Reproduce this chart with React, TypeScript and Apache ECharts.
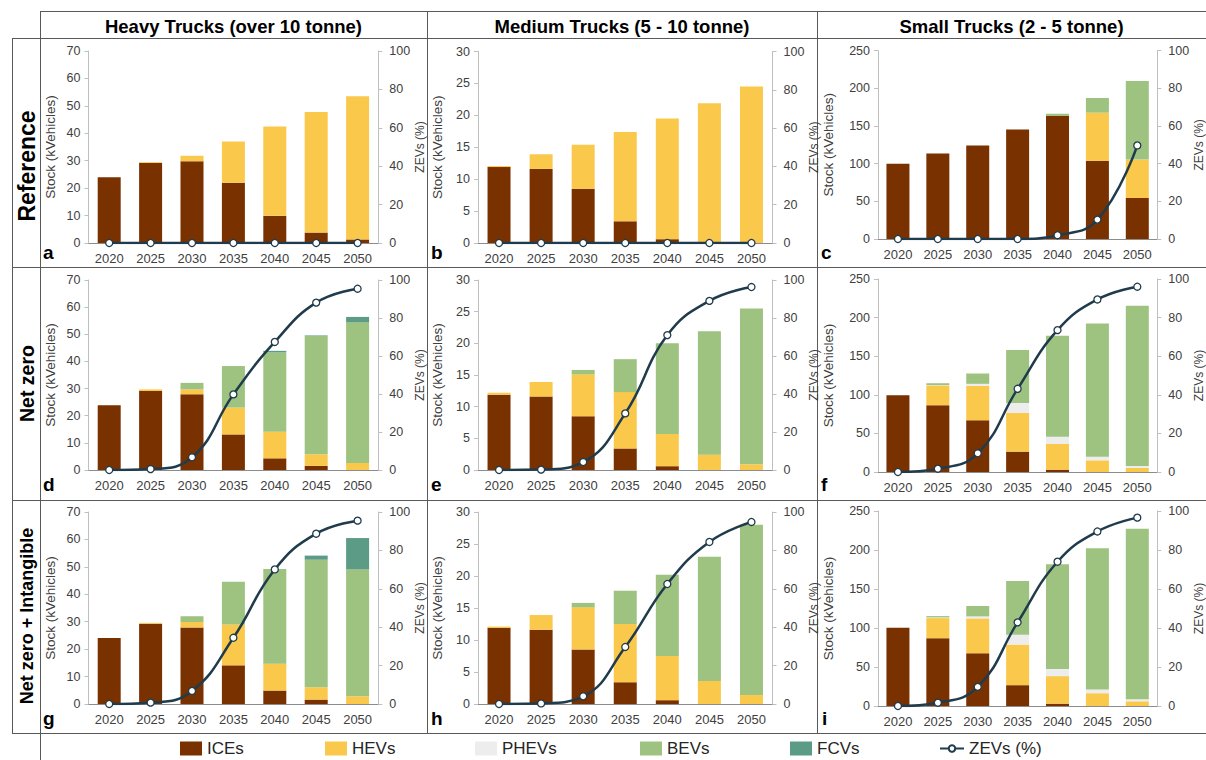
import React, { useEffect, useRef } from 'react';
import * as echarts from 'echarts';

const FONT = '"Liberation Sans", Arial, Helvetica, sans-serif';

const years = ['2020', '2025', '2030', '2035', '2040', '2045', '2050'];
const columnTitles = ['Heavy Trucks (over 10 tonne)', 'Medium Trucks (5 - 10 tonne)', 'Small Trucks (2 - 5 tonne)'];
const rowTitles = ['Reference', 'Net zero', 'Net zero + Intangible'];
const panelLetters = ['a', 'b', 'c', 'd', 'e', 'f', 'g', 'h', 'i'];
const stockMax = [70, 30, 250];
const stockInterval = [10, 5, 50];
const zevMax = 100;
const zevInterval = 20;
const seriesNames = ['ICEs', 'HEVs', 'PHEVs', 'BEVs', 'FCVs'];
const lineName = 'ZEVs (%)';

// a: Heavy, Reference
const heavyRefICE = [24.0, 29.2, 29.8, 22.0, 9.9, 3.8, 1.3];
const heavyRefHEV = [0, 0.3, 2.0, 15.0, 32.6, 44.0, 52.2];
const heavyRefPHEV = [0, 0, 0, 0, 0, 0, 0];
const heavyRefBEV = [0, 0, 0, 0, 0, 0, 0];
const heavyRefFCV = [0, 0, 0, 0, 0, 0, 0];
const heavyRefZEV = [0, 0, 0, 0, 0, 0, 0];
// b: Medium, Reference
const mediumRefICE = [11.9, 11.6, 8.5, 3.4, 0.6, 0.05, 0.05];
const mediumRefHEV = [0.15, 2.3, 6.9, 14.0, 18.9, 21.85, 24.45];
const mediumRefPHEV = [0, 0, 0, 0, 0, 0, 0];
const mediumRefBEV = [0, 0, 0, 0, 0, 0, 0];
const mediumRefFCV = [0, 0, 0, 0, 0, 0, 0];
const mediumRefZEV = [0, 0, 0, 0, 0, 0, 0];
// c: Small, Reference
const smallRefICE = [100, 113.5, 124, 145.5, 163.5, 104, 54.4];
const smallRefHEV = [0, 0, 0, 0, 0, 63.7, 51];
const smallRefPHEV = [0, 0, 0, 0, 0, 0, 0];
const smallRefBEV = [0, 0, 0, 0, 2.8, 19.5, 104.4];
const smallRefFCV = [0, 0, 0, 0, 0, 0, 0];
const smallRefZEV = [0, 0, 0, 0, 2.0, 10.3, 49.7];
// d: Heavy, Net zero
const heavyNzICE = [23.9, 29.1, 27.9, 13.1, 4.3, 1.5, 0];
const heavyNzHEV = [0, 0.6, 1.8, 9.9, 9.8, 4.3, 2.6];
const heavyNzPHEV = [0, 0, 0, 0, 0, 0, 0];
const heavyNzBEV = [0, 0, 2.4, 15.3, 29.2, 43.6, 51.8];
const heavyNzFCV = [0, 0, 0, 0, 0.6, 0.2, 2.0];
const heavyNzZEV = [0, 0.5, 6.7, 39.8, 67.4, 88.1, 95.4];
// e: Medium, Net zero
const mediumNzICE = [11.9, 11.6, 8.5, 3.4, 0.6, 0, 0];
const mediumNzHEV = [0.3, 2.3, 6.6, 8.9, 5.1, 2.4, 0.9];
const mediumNzPHEV = [0, 0, 0, 0, 0, 0, 0];
const mediumNzBEV = [0, 0, 0.7, 5.2, 14.3, 19.5, 24.6];
const mediumNzFCV = [0, 0, 0, 0, 0, 0, 0];
const mediumNzZEV = [0, 0.2, 4.2, 29.8, 71.0, 89.0, 96.3];
// f: Small, Net zero
const smallNzICE = [99.5, 86.5, 67, 26.4, 3, 0, 0];
const smallNzHEV = [0, 25.5, 44.6, 50.2, 33.3, 15.1, 5.2];
const smallNzPHEV = [0, 0.5, 2.6, 12.9, 9.5, 4.8, 2.6];
const smallNzBEV = [0, 2.5, 13.4, 68.4, 130.7, 172.6, 207.6];
const smallNzFCV = [0, 0, 0, 0, 0, 0, 0];
const smallNzZEV = [0, 1.7, 9.7, 43.1, 73.5, 89.4, 96.0];
// g: Heavy, Net zero + Intangible
const heavyNziICE = [24.1, 29.3, 27.9, 14.1, 4.9, 1.6, 0];
const heavyNziHEV = [0, 0.3, 2.0, 14.9, 9.8, 4.5, 2.8];
const heavyNziPHEV = [0, 0, 0, 0, 0, 0, 0];
const heavyNziBEV = [0, 0, 2.1, 15.6, 34.5, 46.5, 46.3];
const heavyNziFCV = [0, 0, 0, 0, 0, 1.5, 11.4];
const heavyNziZEV = [0, 0.7, 6.8, 34.5, 70.1, 88.7, 95.5];
// h: Medium, Net zero + Intangible
const mediumNziICE = [11.9, 11.6, 8.5, 3.4, 0.6, 0, 0];
const mediumNziHEV = [0.2, 2.3, 6.6, 9.1, 6.9, 3.6, 1.4];
const mediumNziPHEV = [0, 0, 0, 0, 0, 0, 0];
const mediumNziBEV = [0, 0, 0.7, 5.2, 12.7, 19.4, 26.6];
const mediumNziFCV = [0, 0, 0, 0, 0, 0, 0];
const mediumNziZEV = [0, 0.3, 4.0, 29.7, 62.5, 84.4, 94.8];
// i: Small, Net zero + Intangible
const smallNziICE = [100.3, 86.9, 67.6, 26.7, 3, 0, 0];
const smallNziHEV = [0, 25.8, 44.7, 52, 35.3, 16.4, 6];
const smallNziPHEV = [0, 0.9, 2.6, 12.5, 9, 4.7, 2.6];
const smallNziBEV = [0, 1.7, 13.3, 68.9, 134.3, 181.1, 218.6];
const smallNziFCV = [0, 0, 0, 0, 0, 0, 0];
const smallNziZEV = [0, 1.7, 9.8, 42.9, 74.0, 89.5, 96.6];

const panelStacks = [
  [heavyRefICE, heavyRefHEV, heavyRefPHEV, heavyRefBEV, heavyRefFCV],
  [mediumRefICE, mediumRefHEV, mediumRefPHEV, mediumRefBEV, mediumRefFCV],
  [smallRefICE, smallRefHEV, smallRefPHEV, smallRefBEV, smallRefFCV],
  [heavyNzICE, heavyNzHEV, heavyNzPHEV, heavyNzBEV, heavyNzFCV],
  [mediumNzICE, mediumNzHEV, mediumNzPHEV, mediumNzBEV, mediumNzFCV],
  [smallNzICE, smallNzHEV, smallNzPHEV, smallNzBEV, smallNzFCV],
  [heavyNziICE, heavyNziHEV, heavyNziPHEV, heavyNziBEV, heavyNziFCV],
  [mediumNziICE, mediumNziHEV, mediumNziPHEV, mediumNziBEV, mediumNziFCV],
  [smallNziICE, smallNziHEV, smallNziPHEV, smallNziBEV, smallNziFCV],
];
const panelZEV = [heavyRefZEV, mediumRefZEV, smallRefZEV, heavyNzZEV, mediumNzZEV, smallNzZEV, heavyNziZEV, mediumNziZEV, smallNziZEV];

// ---- styling / layout (not data) ----
const COLORS = ['#7A3100', '#FAC84B', '#EDEDED', '#9EC27F', '#5C9B85'];
const LINE_COLOR = '#1F3B4C';
const TEXT = '#404040';
const AXIS_GREY = '#BFBFBF';
const GRID_LINE = '#595959';

// [left, top, right, bottom] of each plot area in page pixels
const plotBoxes = [
  [88.5, 51, 378.3, 243], [478, 51.5, 772.5, 243], [878, 50.7, 1163.3, 239],
  [88.5, 280, 378.3, 470], [478, 280, 772.5, 470], [878, 279, 1163.3, 472],
  [88.5, 512, 378.3, 704], [478, 512, 772.5, 704], [878, 511, 1163.3, 706],
];
const leftNameGap = [31, 34, 42.5];
const letterPos = [
  [43, 252], [431, 252], [821, 252],
  [43, 484], [431, 484], [821, 484],
  [43, 718], [431, 718], [822, 718],
];
const headerX = [233.5, 622, 1011.5];
const rowLabelY = [166, 383.5, 616];
const rowLabelSize = [23, 19.5, 18];
const legendLeft = [180, 325, 475, 640, 790];

function buildOption() {
  const grid: any[] = [];
  const xAxis: any[] = [];
  const yAxis: any[] = [];
  const series: any[] = [];
  for (let k = 0; k < 9; k++) {
    const col = k % 3;
    const [l, t, r, b] = plotBoxes[k];
    grid.push({ left: l, top: t, width: r - l, height: b - t, containLabel: false });
    xAxis.push({
      type: 'category', gridIndex: k, data: years,
      axisLine: { show: true, lineStyle: { color: '#8C8C8C', width: 1 } },
      axisTick: { show: false },
      axisLabel: { color: TEXT, fontSize: 13, fontFamily: FONT, margin: 9 },
      splitLine: { show: false },
    });
    yAxis.push({
      type: 'value', gridIndex: k, position: 'left', min: 0, max: stockMax[col], interval: stockInterval[col],
      name: 'Stock (kVehicles)', nameLocation: 'middle', nameRotate: 90, nameGap: leftNameGap[col],
      nameTextStyle: { color: TEXT, fontSize: 13.5, fontFamily: FONT },
      axisLine: { show: true, lineStyle: { color: AXIS_GREY } },
      axisTick: { show: true, length: 4, lineStyle: { color: AXIS_GREY } },
      axisLabel: { color: TEXT, fontSize: 12.5, fontFamily: FONT, margin: 8 },
      splitLine: { show: false },
    });
    yAxis.push({
      type: 'value', gridIndex: k, position: 'right', min: 0, max: zevMax, interval: zevInterval,
      name: 'ZEVs (%)', nameLocation: 'middle', nameRotate: 90, nameGap: 34,
      nameTextStyle: { color: TEXT, fontSize: 12, fontFamily: FONT },
      axisLine: { show: true, lineStyle: { color: AXIS_GREY } },
      axisTick: { show: true, length: 4, lineStyle: { color: AXIS_GREY } },
      axisLabel: { color: TEXT, fontSize: 12.5, fontFamily: FONT, margin: 11 },
      splitLine: { show: false },
    });
    panelStacks[k].forEach((vals, s) => {
      series.push({
        type: 'bar', name: seriesNames[s], xAxisIndex: k, yAxisIndex: 2 * k,
        stack: 'p' + k, data: vals, barWidth: 23,
        itemStyle: { color: COLORS[s] },
        emphasis: { disabled: true },
      });
    });
    series.push({
      type: 'line', name: lineName, xAxisIndex: k, yAxisIndex: 2 * k + 1,
      data: panelZEV[k], smooth: 0.45, symbol: 'circle', symbolSize: 7,
      lineStyle: { color: LINE_COLOR, width: 2.5 },
      itemStyle: { color: '#FFFFFF', borderColor: LINE_COLOR, borderWidth: 1.3 },
      z: 5, emphasis: { disabled: true },
    });
  }

  const legend: any[] = seriesNames.map((n, i) => ({
    data: [{ name: n, icon: 'rect' }], left: legendLeft[i], top: 740, padding: 0,
    itemWidth: 22, itemHeight: 14, selectedMode: false,
    textStyle: { fontSize: 17, color: '#262626', fontFamily: FONT },
  }));
  legend.push({
    data: [{ name: lineName }], left: 939, top: 740, padding: 0,
    itemWidth: 24, itemHeight: 8, selectedMode: false,
    textStyle: { fontSize: 17, color: '#262626', fontFamily: FONT },
  });

  const line = (x1: number, y1: number, x2: number, y2: number) => ({
    type: 'line', silent: true, shape: { x1, y1, x2, y2 },
    style: { stroke: GRID_LINE, lineWidth: 1 },
  });
  const elements: any[] = [
    line(40, 11.5, 1206, 11.5),
    line(12, 38.5, 1206, 38.5),
    line(12, 267.5, 1206, 267.5),
    line(12, 500.5, 1206, 500.5),
    line(12, 733.5, 1206, 733.5),
    line(12.5, 38.5, 12.5, 733.5),
    line(40.5, 11.5, 40.5, 760),
    line(427.5, 11.5, 427.5, 733.5),
    line(817.5, 11.5, 817.5, 733.5),
  ];
  columnTitles.forEach((t, i) => elements.push({
    type: 'text', x: headerX[i], y: 26.5, silent: true,
    style: { text: t, fill: '#000', fontSize: 18.5, fontWeight: 'bold', fontFamily: FONT, align: 'center', verticalAlign: 'middle' },
  }));
  rowTitles.forEach((t, i) => elements.push({
    type: 'text', x: 27, y: rowLabelY[i], rotation: Math.PI / 2, silent: true,
    style: { text: t, fill: '#000', fontSize: rowLabelSize[i], fontWeight: 'bold', fontFamily: FONT, align: 'center', verticalAlign: 'middle' },
  }));
  panelLetters.forEach((t, i) => elements.push({
    type: 'text', x: letterPos[i][0], y: letterPos[i][1], silent: true,
    style: { text: t, fill: '#000', fontSize: 19, fontWeight: 'bold', fontFamily: FONT, align: 'left', verticalAlign: 'middle' },
  }));

  return {
    animation: false,
    backgroundColor: '#FFFFFF',
    textStyle: { fontFamily: FONT },
    grid, xAxis, yAxis, series, legend,
    graphic: { elements },
  };
}

export default function App() {
  const ref = useRef<HTMLDivElement>(null);
  useEffect(() => {
    if (!ref.current) return;
    const chart = echarts.init(ref.current, undefined, { renderer: 'svg' });
    chart.setOption(buildOption() as any);
    return () => chart.dispose();
  }, []);
  return (
    <div
      ref={ref}
      style={{ position: 'fixed', left: 0, top: 0, width: 1206, height: 760, background: '#fff' }}
    />
  );
}
